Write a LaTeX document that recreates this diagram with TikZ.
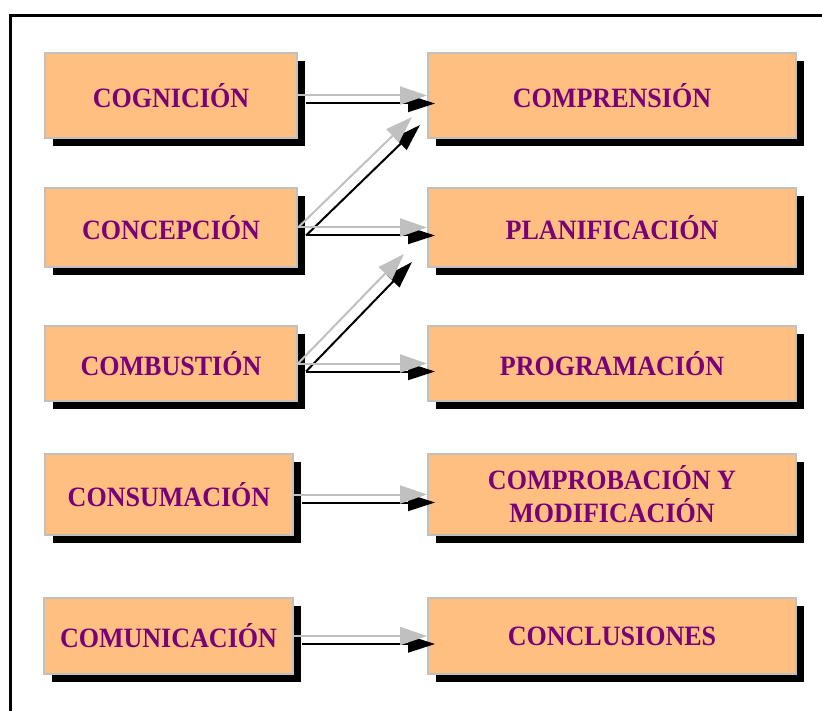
\documentclass[tikz,border=0pt]{standalone}
\usepackage{fontspec}
\setmainfont{Liberation Serif}
\newfontfamily\stagefont{Liberation Serif}[FakeStretch=0.93]
\usetikzlibrary{arrows.meta,shadows}
\definecolor{boxfill}{RGB}{255,191,128}
\definecolor{boxline}{RGB}{192,192,192}
\definecolor{label}{RGB}{120,0,120}
\definecolor{arrgray}{RGB}{192,192,192}
\tikzset{
  stage/.style={draw=boxline, line width=2pt, fill=boxfill, text=label,
    font=\stagefont\bfseries\fontsize{28}{33}\selectfont, align=center, inner sep=0pt,
    drop shadow={shadow xshift=8pt, shadow yshift=-8pt, fill=black, opacity=1}},
  arrmain/.style={draw=arrgray, line width=2pt,
    -{Triangle[length=27pt,width=18pt]}},
  arrshade/.style={draw=black, line width=2pt,
    -{Triangle[length=27pt,width=17pt]}}
}
% (from, to): black offset copy first, grey arrow on top
\newcommand\shadearrow[2]{\draw[arrshade] ([shift={(8,8)}]#1) -- ([shift={(8,8)}]#2);}
\newcommand\greyarrow[2]{\draw[arrmain] (#1) -- (#2);}
\begin{document}
\begin{tikzpicture}[x=1pt,y=-1pt]
\useasboundingbox (0,0) rectangle (822,711);
\clip (0,0) rectangle (822,711);
\fill[white] (0,0) rectangle (822,711);
% outer frame (runs past the right and bottom edges)
\draw[line width=3pt] (10.5,15.5) rectangle (850,740);

% left column
\node[stage, minimum width=252pt, minimum height=85pt] (cog) at (171,95.5) {COGNICIÓN};
\node[stage, minimum width=252pt, minimum height=79pt] (con) at (171,227.5) {CONCEPCIÓN};
\node[stage, minimum width=252pt, minimum height=75pt] (com) at (171,363.5) {COMBUSTIÓN};
\node[stage, minimum width=248pt, minimum height=81pt] (cns) at (169,494.5) {CONSUMACIÓN};
\node[stage, minimum width=249pt, minimum height=76pt] (cmu) at (168.5,636) {COMUNICACIÓN};

% right column
\node[stage, minimum width=368pt, minimum height=85pt] (cpr) at (612,95.5) {COMPRENSIÓN};
\node[stage, minimum width=368pt, minimum height=79pt] (pla) at (612,227.5) {PLANIFICACIÓN};
\node[stage, minimum width=368pt, minimum height=75pt] (pro) at (612,363.5) {PROGRAMACIÓN};
\node[stage, minimum width=368pt, minimum height=81pt] (cmp) at (612,494.5) {COMPROBACIÓN Y\\MODIFICACIÓN};
\node[stage, minimum width=368pt, minimum height=76pt] (cnc) at (612,636) {CONCLUSIONES};

% ends of the slanted arrows
\coordinate (tipA) at (412,117);
\coordinate (tipB) at (404,254);

% shadows of the arrows
\shadearrow{cog.east}{cpr.west}
\shadearrow{con.east}{tipA}
\shadearrow{con.east}{pla.west}
\shadearrow{com.east}{tipB}
\shadearrow{com.east}{pro.west}
\shadearrow{cns.east}{cmp.west}
\shadearrow{cmu.east}{cnc.west}

% grey arrows
\greyarrow{cog.east}{cpr.west}
\greyarrow{con.east}{tipA}
\greyarrow{con.east}{pla.west}
\greyarrow{com.east}{tipB}
\greyarrow{com.east}{pro.west}
\greyarrow{cns.east}{cmp.west}
\greyarrow{cmu.east}{cnc.west}
\end{tikzpicture}
\end{document}
